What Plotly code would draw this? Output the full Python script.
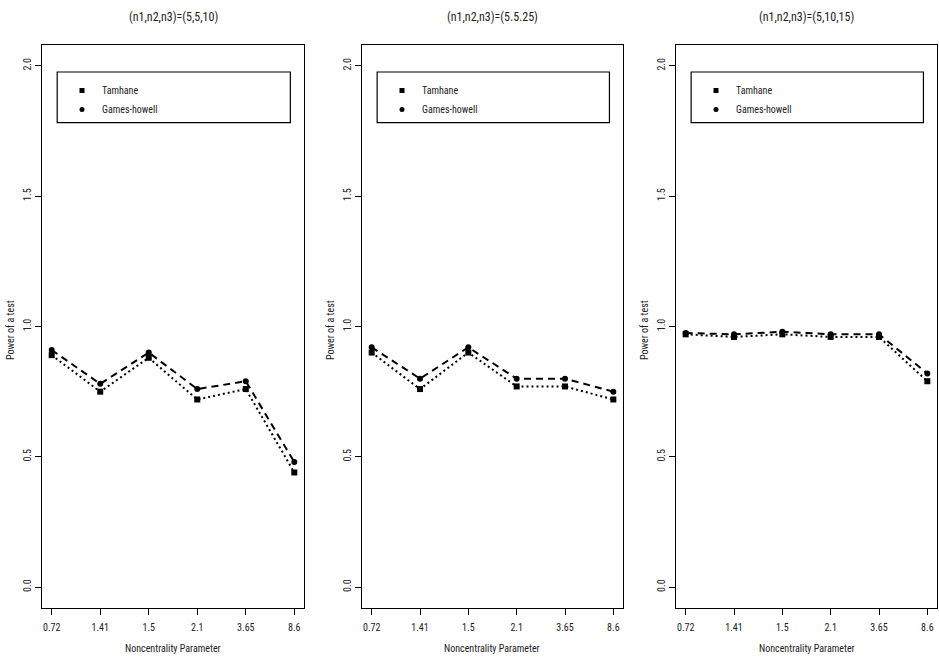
import plotly.graph_objects as go

# Noncentrality parameter values (categorical x axis)
categories = ["0.72", "1.41", "1.5", "2.1", "3.65", "8.6"]
y_ticks = [0.0, 0.5, 1.0, 1.5, 2.0]
y_tick_labels = ["0.0", "0.5", "1.0", "1.5", "2.0"]

panel_titles = ["(n1,n2,n3)=(5,5,10)", "(n1,n2,n3)=(5.5.25)", "(n1,n2,n3)=(5,10,15)"]

# Power of each test for the three sample-size designs
tamhane_5_5_10 = [0.89, 0.75, 0.88, 0.72, 0.76, 0.44]
games_howell_5_5_10 = [0.91, 0.78, 0.90, 0.76, 0.79, 0.48]

tamhane_5_5_25 = [0.90, 0.76, 0.90, 0.77, 0.77, 0.72]
games_howell_5_5_25 = [0.92, 0.80, 0.92, 0.80, 0.80, 0.75]

tamhane_5_10_15 = [0.97, 0.96, 0.97, 0.96, 0.96, 0.79]
games_howell_5_10_15 = [0.975, 0.97, 0.98, 0.97, 0.97, 0.82]

tamhane = [tamhane_5_5_10, tamhane_5_5_25, tamhane_5_10_15]
games_howell = [games_howell_5_5_10, games_howell_5_5_25, games_howell_5_10_15]

W, H = 939, 664
FONT = "Roboto Condensed, Liberation Sans Narrow, Liberation Sans, Arial, sans-serif"
TXT = "#222"

# panel boxes in pixels (left, right); shared top/bottom
boxes = [(42, 304), (362, 623), (676, 937)]
top_px, bottom_px = 45, 608

fig = go.Figure()
legend_names = ["legend", "legend2", "legend3"]
layout_updates = {}

for i in range(3):
    xa = "x" if i == 0 else f"x{i+1}"
    ya = "y" if i == 0 else f"y{i+1}"
    lg = legend_names[i]

    fig.add_trace(go.Scatter(
        x=categories, y=tamhane[i], xaxis=xa, yaxis=ya,
        mode="lines+markers", showlegend=False,
        line=dict(color="black", width=2, dash="2px,3px"),
        marker=dict(symbol="square", size=6, color="black"),
    ))
    fig.add_trace(go.Scatter(
        x=categories, y=games_howell[i], xaxis=xa, yaxis=ya,
        mode="lines+markers", showlegend=False,
        line=dict(color="black", width=2, dash="7px,5px"),
        marker=dict(symbol="circle", size=6, color="black"),
    ))
    # legend entries (markers only)
    fig.add_trace(go.Scatter(
        x=[None], y=[None], xaxis=xa, yaxis=ya, mode="markers",
        name="Tamhane", legend=lg, showlegend=True,
        marker=dict(symbol="square", size=5, color="black"),
    ))
    fig.add_trace(go.Scatter(
        x=[None], y=[None], xaxis=xa, yaxis=ya, mode="markers",
        name="Games-howell", legend=lg, showlegend=True,
        marker=dict(symbol="circle", size=5, color="black"),
    ))

    l, r = boxes[i]
    dom_x = [l / W, r / W]
    dom_y = [(H - bottom_px) / H, (H - top_px) / H]
    xkey = "xaxis" if i == 0 else f"xaxis{i+1}"
    ykey = "yaxis" if i == 0 else f"yaxis{i+1}"
    layout_updates[xkey] = dict(
        domain=dom_x, anchor=ya, type="category", range=[-0.2, 5.2],
        showline=True, mirror=True, linecolor="black", linewidth=1,
        ticks="outside", ticklen=6, tickcolor="black", showgrid=False,
        zeroline=False, tickfont=dict(family=FONT, size=10, color=TXT),
        ticklabelstandoff=4, automargin=False,
    )
    layout_updates[ykey] = dict(
        domain=dom_y, anchor=xa, range=[-0.08, 2.08],
        tickvals=y_ticks, ticktext=y_tick_labels, tickangle=-90,
        showline=True, mirror=True, linecolor="black", linewidth=1,
        ticks="outside", ticklen=6, tickcolor="black", showgrid=False,
        zeroline=False, tickfont=dict(family=FONT, size=10, color=TXT),
        automargin=False,
    )
    layout_updates[lg] = dict(
        x=(l + 20) / W, y=(H - 76) / H, xanchor="left", yanchor="top",
        bgcolor="rgba(0,0,0,0)", borderwidth=0,
        font=dict(family=FONT, size=10, color=TXT),
        itemwidth=30, tracegroupgap=0,
    )
    # legend frame
    fig.add_shape(type="rect", xref=f"{xa} domain", yref=f"{ya} domain",
                  x0=0.058, x1=0.948, y0=0.862, y1=0.952,
                  line=dict(color="black", width=1.2))
    # panel title
    fig.add_annotation(text=panel_titles[i], xref="paper", yref="paper",
                       x=(l + r) / 2 / W, y=(H - 17) / H, showarrow=False,
                       xanchor="center", yanchor="middle",
                       font=dict(family=FONT, size=12, color=TXT))
    # axis titles
    fig.add_annotation(text="Noncentrality Parameter", xref="paper", yref="paper",
                       x=(l + r) / 2 / W, y=(H - 648) / H, showarrow=False,
                       xanchor="center", yanchor="middle",
                       font=dict(family=FONT, size=10, color=TXT))
    fig.add_annotation(text="Power of a test", xref="paper", yref="paper",
                       x=(l - 32) / W, y=(H - 330) / H, showarrow=False,
                       xanchor="center", yanchor="middle", textangle=-90,
                       font=dict(family=FONT, size=10, color=TXT))

fig.update_layout(
    width=W, height=H,
    margin=dict(l=0, r=0, t=0, b=0),
    paper_bgcolor="white", plot_bgcolor="white",
    **layout_updates,
)

fig.write_html("out.html")
